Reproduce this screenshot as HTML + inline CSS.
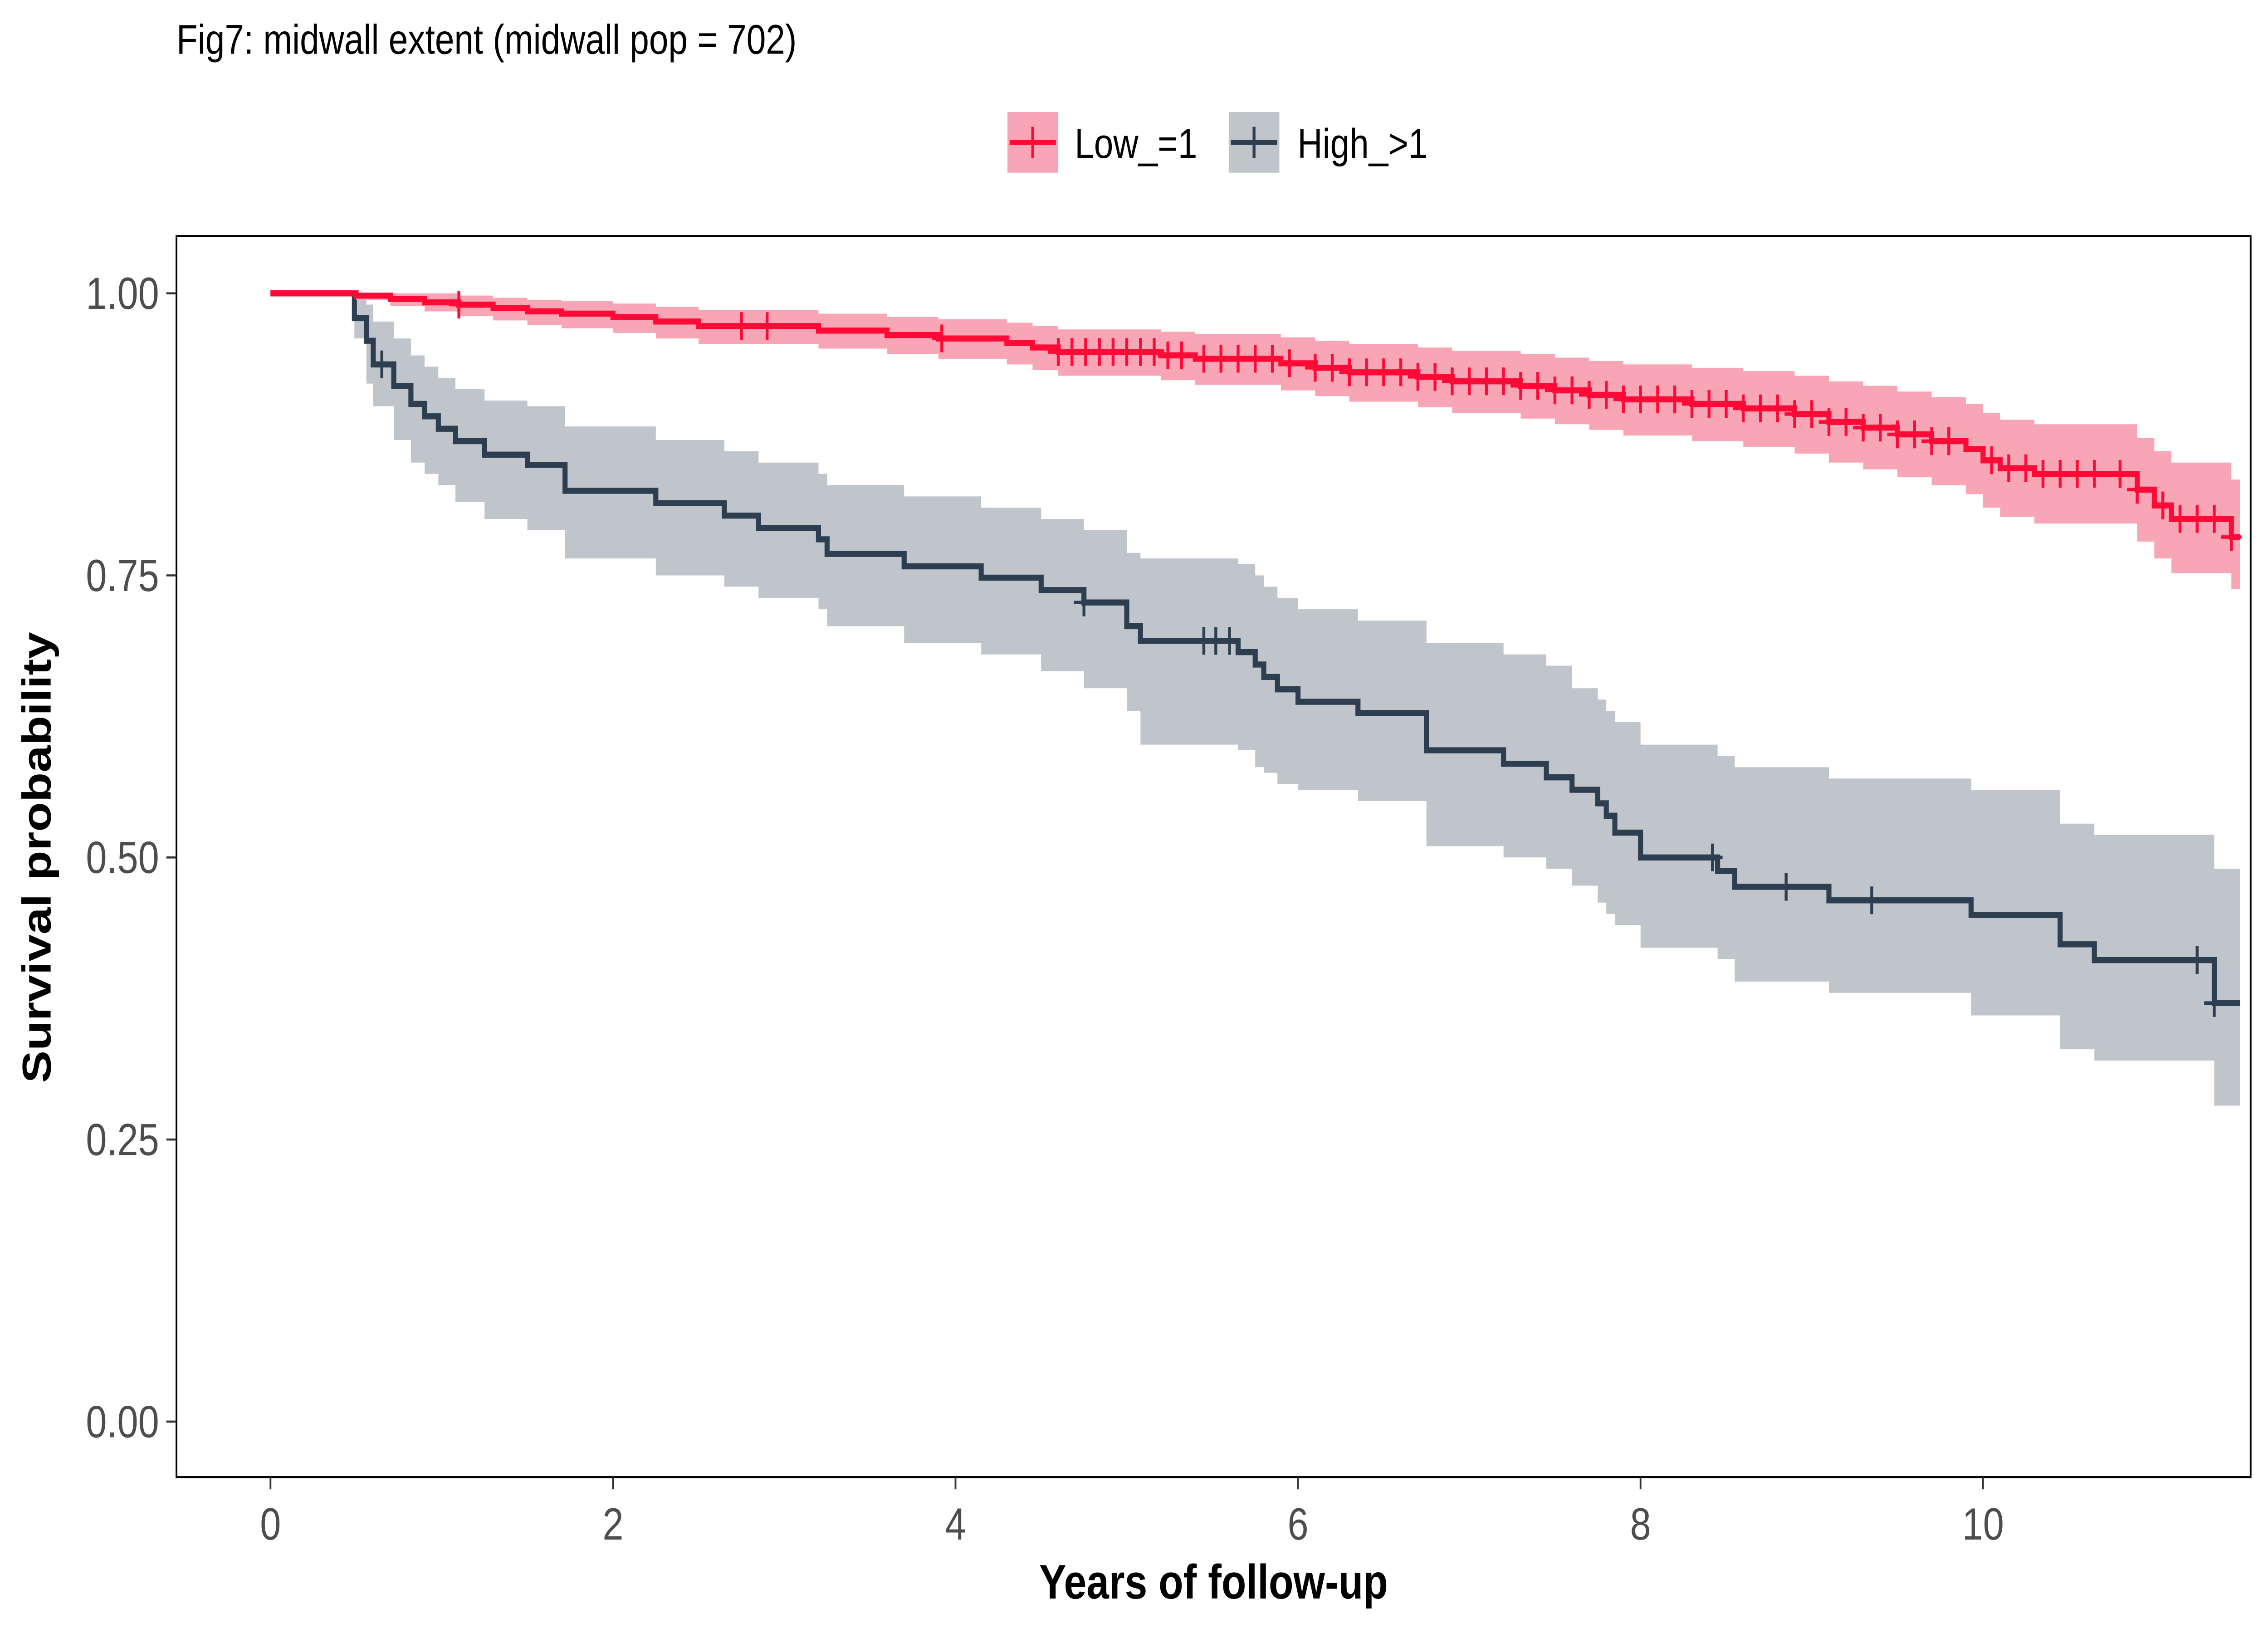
<!DOCTYPE html>
<html><head><meta charset="utf-8"><style>
html,body{margin:0;padding:0;background:#fff;overflow:hidden;width:100%;height:100%;}
svg{display:block;width:100vw;height:100vh;font-family:"Liberation Sans",Arial,sans-serif;}
</style></head><body>
<svg id="chart" viewBox="0 0 1568 940.8" preserveAspectRatio="none" xmlns="http://www.w3.org/2000/svg">
<rect width="1568" height="940.8" fill="#fff"/>
<text x="122" y="31" font-size="24" fill="#000">Fig7: midwall extent (midwall pop = 702)</text>
<g>
 <g>
  <rect x="696" y="64" width="36" height="36" fill="#f8a5b5" stroke="#fff"/>
  <line x1="698" y1="82" x2="730" y2="82" stroke="#ff0a36" stroke-width="3"/>
  <line x1="714" y1="73" x2="714" y2="91" stroke="#ff0a36" stroke-width="2"/>
  <text x="743" y="91" font-size="24">Low_=1</text>
 </g>
 <g>
  <rect x="849" y="64" width="36" height="36" fill="#c0c5cb" stroke="#fff"/>
  <line x1="851" y1="82" x2="883" y2="82" stroke="#2c3e50" stroke-width="3"/>
  <line x1="867" y1="73" x2="867" y2="91" stroke="#2c3e50" stroke-width="2"/>
  <text x="897" y="91" font-size="24">High_&gt;1</text>
 </g>
</g>
<defs><clipPath id="pc"><rect x="122" y="136" width="1434" height="715"/></clipPath></defs>
<g id="plot" clip-path="url(#pc)"></g>
<rect x="122" y="136" width="1434" height="715" fill="none" stroke="#000" stroke-width="1.2"/>
<g id="axes"></g>
<text x="839" y="921" font-size="28" font-weight="bold" text-anchor="middle">Years of follow-up</text>
<text transform="translate(35,494) rotate(-90)" font-size="28" font-weight="bold" text-anchor="middle">Survival probability</text>
</svg>
<script>
const highT=[0,0.49,0.56,0.6,0.72,0.82,0.9,0.98,1.08,1.25,1.5,1.72,2.25,2.65,2.85,3.2,3.25,3.7,4.15,4.5,4.75,5.0,5.08,5.65,5.75,5.8,5.88,6.0,6.35,6.75,7.2,7.45,7.6,7.75,7.8,7.85,8.0,8.45,8.55,9.1,9.93,10.45,10.65,11.35];
const highS=[1,0.978,0.958,0.937,0.918,0.902,0.891,0.880,0.869,0.857,0.848,0.825,0.814,0.803,0.792,0.782,0.769,0.758,0.748,0.737,0.726,0.705,0.692,0.682,0.671,0.660,0.649,0.638,0.628,0.595,0.583,0.571,0.560,0.548,0.537,0.522,0.500,0.488,0.474,0.462,0.449,0.423,0.409,0.371];
const highHi=[1,0.995,0.99,0.975,0.96,0.945,0.935,0.925,0.915,0.905,0.9,0.882,0.87,0.86,0.85,0.84,0.83,0.82,0.81,0.8,0.79,0.77,0.765,0.76,0.75,0.74,0.73,0.72,0.71,0.69,0.68,0.67,0.65,0.64,0.63,0.62,0.6,0.59,0.58,0.57,0.56,0.53,0.52,0.49];
const highLo=[1,0.96,0.92,0.9,0.87,0.85,0.84,0.83,0.815,0.8,0.79,0.765,0.75,0.74,0.73,0.72,0.705,0.69,0.68,0.665,0.65,0.63,0.6,0.595,0.58,0.575,0.565,0.56,0.55,0.51,0.5,0.49,0.475,0.46,0.45,0.44,0.42,0.41,0.39,0.38,0.36,0.33,0.32,0.28];
const highCens=[0.65,4.75,5.45,5.52,5.6,8.42,8.85,9.35,11.25,11.35];
const lowT=[0,0.5,0.7,0.9,1.1,1.3,1.5,1.7,2.0,2.25,2.5,3.2,3.6,3.9,4.3,4.45,4.6,5.2,5.4,5.9,6.1,6.3,6.7,6.9,7.3,7.5,7.7,7.9,8.3,8.6,8.9,9.1,9.3,9.5,9.7,9.9,10.0,10.1,10.3,10.9,11.0,11.1,11.45];
const lowS=[1,0.998,0.995,0.992,0.99,0.987,0.984,0.982,0.979,0.975,0.971,0.967,0.963,0.96,0.956,0.952,0.948,0.945,0.942,0.938,0.934,0.93,0.926,0.922,0.918,0.914,0.91,0.906,0.902,0.898,0.893,0.886,0.881,0.875,0.869,0.862,0.852,0.845,0.84,0.826,0.812,0.8,0.784];
const lowHi=[1,1,1,1,0.998,0.996,0.994,0.993,0.991,0.988,0.985,0.982,0.979,0.977,0.974,0.971,0.968,0.966,0.964,0.961,0.958,0.955,0.952,0.949,0.946,0.943,0.94,0.937,0.934,0.931,0.927,0.922,0.918,0.913,0.908,0.902,0.894,0.888,0.884,0.872,0.86,0.85,0.835];
const lowLo=[1,0.994,0.989,0.984,0.98,0.976,0.972,0.969,0.965,0.96,0.955,0.951,0.946,0.942,0.937,0.932,0.927,0.923,0.919,0.914,0.909,0.904,0.899,0.894,0.889,0.884,0.879,0.874,0.869,0.864,0.858,0.85,0.844,0.837,0.83,0.822,0.81,0.802,0.796,0.78,0.765,0.752,0.738];
const lowCens=[1.1,2.75,2.9,3.92,4.6,4.68,4.76,4.84,4.92,5.0,5.08,5.16,5.24,5.32,5.45,5.55,5.65,5.75,5.85,5.95,6.1,6.2,6.3,6.4,6.5,6.6,6.7,6.8,6.9,7.0,7.1,7.2,7.3,7.4,7.5,7.6,7.7,7.8,7.9,8.0,8.1,8.2,8.3,8.4,8.5,8.6,8.7,8.8,8.9,9.0,9.1,9.2,9.3,9.4,9.5,9.6,9.7,9.8,10.05,10.15,10.25,10.35,10.45,10.55,10.65,10.8,10.9,11.05,11.15,11.25,11.35,11.45];
const xTicks=[0,2,4,6,8,10];
const yTicks=[0,0.25,0.5,0.75,1.0];
const yLabels=["0.00","0.25","0.50","0.75","1.00"];
const XMAX=11.5;
const sx=t=>187+t*118.4;
const sy=s=>819-s*650;
const NS="http://www.w3.org/2000/svg";
const plot=document.getElementById('plot'),axes=document.getElementById('axes');
function mk(tag,attrs,parent){const e=document.createElementNS(NS,tag);for(const k in attrs)e.setAttribute(k,attrs[k]);parent.appendChild(e);return e;}
function stepPts(T,S){let p=[];for(let i=0;i<T.length;i++){const x0=sx(T[i]),x1=sx(i+1<T.length?T[i+1]:XMAX);p.push([x0,sy(S[i])],[x1,sy(S[i])]);}return p;}
function valAt(T,S,t){let v=S[0];for(let i=0;i<T.length;i++){if(T[i]<=t)v=S[i];}return v;}
function group(name,T,S,Hi,Lo,C,fill,stroke){
 const up=stepPts(T,Hi),dn=stepPts(T,Lo).reverse();
 const rib=mk('polygon',{points:up.concat(dn).map(p=>p.join(',')).join(' '),fill:fill},plot);
 
 
 const ln=mk('polyline',{points:stepPts(T,S).map(p=>p.join(',')).join(' '),fill:'none',stroke:stroke,'stroke-width':3.5},plot);
 
 
 C.forEach(t=>{const x=sx(t),y=sy(valAt(T,S,t));
  const m=mk('path',{d:`M${x-7},${y}H${x+7}M${x},${y-8}V${y+8}`,stroke:stroke,'stroke-width':2},plot);
  
  });
}
group('high',highT,highS,highHi,highLo,highCens,'#c0c5cb','#2c3e50');
group('low',lowT,lowS,lowHi,lowLo,lowCens,'#f8a5b5','#ff0a36');
xTicks.forEach(v=>{const x=sx(v);
 const tk=mk('line',{x1:x,x2:x,y1:851,y2:858,stroke:'#333','stroke-width':1.2},axes);
 
 
 const tx=mk('text',{x:x,y:887,'font-size':26,fill:'#4d4d4d','text-anchor':'middle'},axes);tx.textContent=v;
 
 });
yTicks.forEach((v,i)=>{const y=sy(v);
 const tk=mk('line',{x1:115,x2:122,y1:y,y2:y,stroke:'#333','stroke-width':1.2},axes);
 
 
 const tx=mk('text',{x:110,y:y+9,'font-size':26,fill:'#4d4d4d','text-anchor':'end'},axes);tx.textContent=yLabels[i];
 
 });
</script>
</body></html>
